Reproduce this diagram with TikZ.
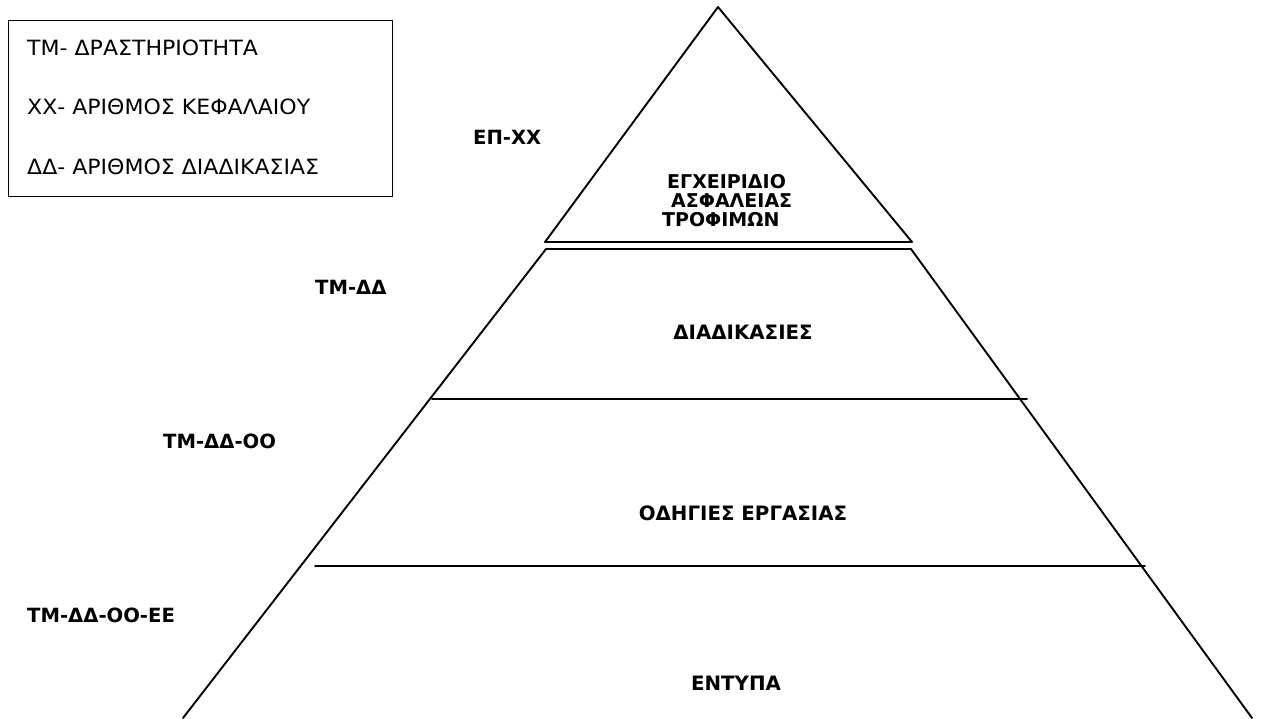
\documentclass[tikz,border=0pt]{standalone}
\usepackage{fontspec}
\setmainfont{DejaVu Sans}
\newfontfamily\legfont[FakeStretch=1.05]{DejaVu Sans}
\newfontfamily\boldfont{DejaVu Sans Bold}
\begin{document}
\begin{tikzpicture}[x=1pt,y=-1pt,
  shape line/.style={line width=1.9pt, line cap=round, line join=round},
  legtext/.style={anchor=west, inner sep=0pt, font=\legfont\fontsize{21}{23}\selectfont},
  codelabel/.style={anchor=west, inner sep=0pt, font=\boldfont\fontsize{19.6}{22}\selectfont},
  toptext/.style={anchor=west, inner sep=0pt, font=\boldfont\fontsize{19}{21}\selectfont},
  levellabel/.style={anchor=center, inner sep=0pt, font=\boldfont\fontsize{19.8}{21}\selectfont}]
\useasboundingbox (0,0) rectangle (1265,718);
\fill[white] (0,0) rectangle (1265,718);
% legend
\node[draw, line width=1pt, anchor=north west, minimum width=384pt, minimum height=176pt, inner sep=0pt] (legend) at (8,20) {};
\node[legtext] (l1) at (27,48) {ΤΜ- ΔΡΑΣΤΗΡΙΟΤΗΤΑ};
\node[legtext] (l2) at (27,107) {ΧΧ- ΑΡΙΘΜΟΣ ΚΕΦΑΛΑΙΟΥ};
\node[legtext] (l3) at (27,167) {ΔΔ- ΑΡΙΘΜΟΣ ΔΙΑΔΙΚΑΣΙΑΣ};
% triangle
\coordinate (apex) at (718,7);
\coordinate (tbl) at (545,242);
\coordinate (tbr) at (912,242);
\draw[shape line] (apex) -- (tbr) -- (tbl) -- cycle;
% trapezoid
\coordinate (ptl) at (546,249);
\coordinate (ptr) at (911,249);
\coordinate (pbl) at (183,718);
\coordinate (pbr) at (1252,718);
\draw[shape line] (pbl) -- (ptl) -- (ptr) -- (pbr);
\coordinate (m1l) at (432,399);
\coordinate (m1r) at (1027,399);
\coordinate (m2l) at (315,566);
\coordinate (m2r) at (1145,566);
\draw[shape line] (m1l) -- (m1r);
\draw[shape line] (m2l) -- (m2r);
% code labels
\node[codelabel] (c1) at (473,137) {ΕΠ-ΧΧ};
\node[codelabel] (c2) at (315,287) {ΤΜ-ΔΔ};
\node[codelabel] (c3) at (163,441) {ΤΜ-ΔΔ-ΟΟ};
\node[codelabel] (c4) at (27,615) {ΤΜ-ΔΔ-ΟΟ-ΕΕ};
% triangle text
\node[toptext] (t1) at (667,182) {ΕΓΧΕΙΡΙΔΙΟ};
\node[toptext] (t2) at (671,201) {ΑΣΦΑΛΕΙΑΣ};
\node[toptext] (t3) at (662,220) {ΤΡΟΦΙΜΩΝ};
% level labels
\node[levellabel] (v1) at (743,332) {ΔΙΑΔΙΚΑΣΙΕΣ};
\node[levellabel] (v2) at (743,513) {ΟΔΗΓΙΕΣ ΕΡΓΑΣΙΑΣ};
\node[levellabel] (v3) at (736,683) {ΕΝΤΥΠΑ};
\end{tikzpicture}
\end{document}
